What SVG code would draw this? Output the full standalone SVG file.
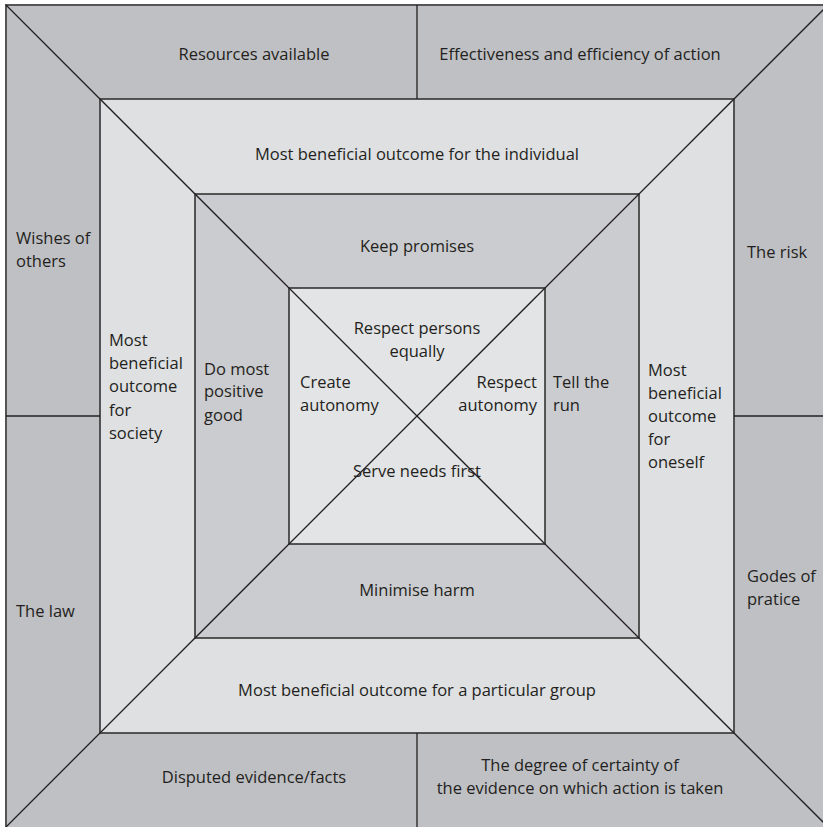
<svg xmlns="http://www.w3.org/2000/svg" width="823" height="827" viewBox="0 0 823 827">
<style>
text{font-family:"Open Sans","Noto Sans","Liberation Sans",sans-serif;font-size:16.5px;fill:#231f20}
.c{text-anchor:middle}
.r{text-anchor:end}
.ln{stroke:#231f20;stroke-width:1.3;fill:none}
.sq{stroke:#333;stroke-width:1.6}
</style>
<rect width="823" height="827" fill="#ffffff"/>
<g id="ring-outer">
<rect x="6" y="5" width="820" height="825" fill="#bfc0c4" stroke="#555" stroke-width="2"/>
</g>
<g id="ring-second">
<rect x="100" y="99" width="634" height="634" fill="#dfe0e2" class="sq"/>
</g>
<g id="ring-third">
<rect x="195" y="194" width="444" height="444" fill="#cbcccf" class="sq"/>
</g>
<g id="ring-inner">
<rect x="289" y="288" width="256" height="256" fill="#e3e4e6" class="sq"/>
</g>
<g id="connectors">
<line class="ln" x1="6" y1="5" x2="828" y2="827"/>
<line class="ln" x1="6" y1="827" x2="828" y2="5"/>
<line class="ln" x1="417" y1="5" x2="417" y2="99"/>
<line class="ln" x1="417" y1="733" x2="417" y2="827"/>
<line class="ln" x1="6" y1="416" x2="100" y2="416"/>
<line class="ln" x1="734" y1="416" x2="823" y2="416"/>
</g>
<g id="outer-labels">
<text class="c" x="254" y="60">Resources available</text>
<text class="c" x="580" y="60">Effectiveness and efficiency of action</text>
<text x="16" y="244">Wishes of</text>
<text x="16" y="267">others</text>
<text x="747" y="258">The risk</text>
<text x="16" y="617">The law</text>
<text x="747" y="582">Godes of</text>
<text x="747" y="605">pratice</text>
<text class="c" x="254" y="783">Disputed evidence/facts</text>
<text class="c" x="580" y="771">The degree of certainty of</text>
<text class="c" x="580" y="794">the evidence on which action is taken</text>
</g>
<g id="second-labels">
<text class="c" x="417" y="160">Most beneficial outcome for the individual</text>
<text x="109" y="346">Most</text>
<text x="109" y="369">beneficial</text>
<text x="109" y="392">outcome</text>
<text x="109" y="416">for</text>
<text x="109" y="439">society</text>
<text x="648" y="376">Most</text>
<text x="648" y="399">beneficial</text>
<text x="648" y="422">outcome</text>
<text x="648" y="445">for</text>
<text x="648" y="468">oneself</text>
<text class="c" x="417" y="696">Most beneficial outcome for a particular group</text>
</g>
<g id="third-labels">
<text class="c" x="417" y="252">Keep promises</text>
<text x="204" y="375">Do most</text>
<text x="204" y="397">positive</text>
<text x="204" y="421">good</text>
<text x="553" y="388">Tell the</text>
<text x="553" y="411">run</text>
<text class="c" x="417" y="596">Minimise harm</text>
</g>
<g id="inner-labels">
<text class="c" x="417" y="334">Respect persons</text>
<text class="c" x="417" y="357">equally</text>
<text x="300" y="388">Create</text>
<text x="300" y="411">autonomy</text>
<text class="r" x="537" y="388">Respect</text>
<text class="r" x="537" y="411">autonomy</text>
<text class="c" x="417" y="477">Serve needs first</text>
</g>
</svg>
